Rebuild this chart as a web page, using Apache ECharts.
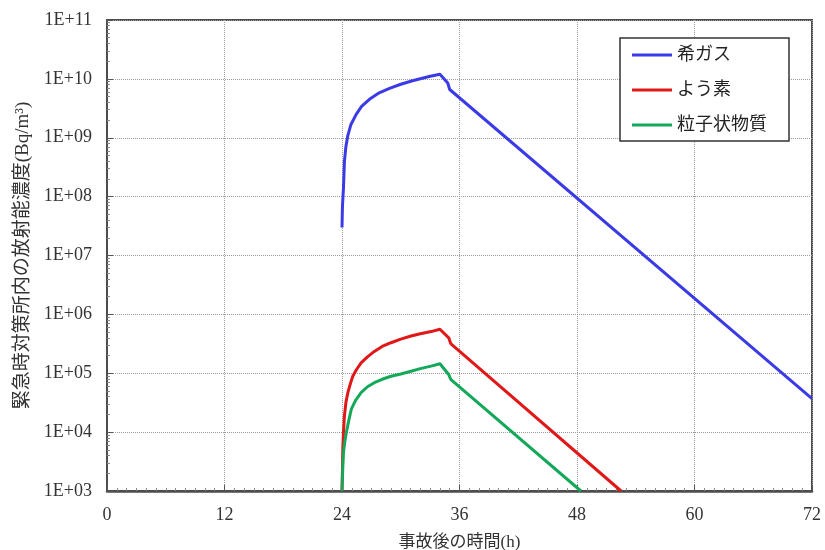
<!DOCTYPE html>
<html>
<head>
<meta charset="utf-8">
<script src="https://cdn.jsdelivr.net/npm/echarts@6/dist/echarts.min.js"></script>
<style>
  html, body { margin: 0; padding: 0; background: #ffffff; }
  #chart { width: 825px; height: 550px; }
</style>
</head>
<body>
<div id="chart"></div>
<script>
// Elapsed time after the accident (h) and concentration (Bq/m3) for each nuclide group
const nobleGasHours  = [24.0, 24.05, 24.15, 24.25, 24.4, 24.6, 24.9, 25.45, 26.0, 26.8, 27.8, 28.85, 30.0, 31.2, 32.9, 34.0, 34.8, 35.0, 72.0];
const nobleGasValues = [3.0e7, 7.1e7, 1.4e8, 4.0e8, 7.1e8, 1.1e9, 1.66e9, 2.5e9, 3.4e9, 4.5e9, 5.8e9, 6.9e9, 8.1e9, 9.3e9, 1.1e10, 1.2e10, 8.5e9, 6.6e9, 3.7e4];

const iodineHours  = [24.0, 24.04, 24.08, 24.15, 24.25, 24.4, 24.6, 24.85, 25.1, 25.5, 25.95, 26.6, 27.3, 28.1, 29.0, 30.0, 31.05, 32.0, 33.1, 34.0, 34.9, 35.1, 52.5];
const iodineValues = [1.0e3, 2.0e3, 5.2e3, 1.0e4, 1.9e4, 3.2e4, 4.7e4, 6.6e4, 8.9e4, 1.17e5, 1.5e5, 1.9e5, 2.35e5, 2.85e5, 3.3e5, 3.8e5, 4.3e5, 4.7e5, 5.1e5, 5.6e5, 4.0e5, 3.2e5, 1.0e3];

const particleHours  = [24.0, 24.08, 24.15, 24.3, 24.45, 24.7, 24.95, 25.4, 25.95, 26.6, 27.3, 28.1, 29.0, 30.0, 31.05, 32.0, 33.1, 34.0, 34.9, 35.1, 48.4];
const particleValues = [1.0e3, 2.5e3, 4.5e3, 7.1e3, 1.0e4, 1.6e4, 2.45e4, 3.5e4, 4.7e4, 5.9e4, 6.9e4, 7.9e4, 8.9e4, 9.7e4, 1.08e5, 1.2e5, 1.32e5, 1.45e5, 9.5e4, 7.9e4, 1.0e3];

const seriesNames = ['希ガス', 'よう素', '粒子状物質'];
const xTicks = [0, 12, 24, 36, 48, 60, 72];

const pairs = (xs, ys) => xs.map((x, i) => [x, ys[i]]);

const serifCJK = '"Liberation Serif", "DejaVu Serif", "Noto Sans CJK JP", serif';

const chart = echarts.init(document.getElementById('chart'), null, { renderer: 'canvas' });

const lineSeries = (name, color, data) => ({
  name: name,
  type: 'line',
  data: data,
  showSymbol: false,
  symbol: 'none',
  smooth: false,
  lineStyle: { color: color, width: 3, join: 'round' },
  itemStyle: { color: color },
  z: 3
});

chart.setOption({
  animation: false,
  backgroundColor: '#ffffff',
  grid: {
    left: 107, right: 13, top: 20, bottom: 59,
    outerBoundsMode: 'none',
    containLabel: false,
    show: true, borderColor: '#4d4d4d', borderWidth: 2,
    backgroundColor: 'transparent'
  },
  legend: {
    orient: 'vertical',
    left: 620, top: 38,
    data: seriesNames,
    icon: 'rect',
    itemWidth: 40, itemHeight: 3,
    itemGap: 17,
    padding: [8, 22, 7, 12],
    backgroundColor: '#ffffff',
    borderColor: '#333333',
    borderWidth: 1.5,
    borderRadius: 0,
    textStyle: { fontFamily: serifCJK, fontSize: 18, color: '#222222' }
  },
  xAxis: {
    type: 'value',
    min: xTicks[0], max: xTicks[xTicks.length - 1], interval: 12,
    name: '事故後の時間(h)',
    nameLocation: 'middle',
    nameGap: 43,
    nameTextStyle: { fontFamily: serifCJK, fontSize: 17, color: '#333333' },
    axisLine: { lineStyle: { color: '#4d4d4d', width: 2.5 } },
    axisTick: { inside: true, length: 6, lineStyle: { color: '#555555' } },
    minorTick: { show: true, splitNumber: 12, length: 3, lineStyle: { color: '#888888' } },
    axisLabel: { fontFamily: serifCJK, fontSize: 18, color: '#333333', margin: 15 },
    splitLine: { show: true, lineStyle: { color: '#9a9a9a', type: 'dotted', width: 1 } }
  },
  yAxis: {
    type: 'log',
    logBase: 10,
    min: 1e3, max: 1e11,
    name: '緊急時対策所内の放射能濃度(Bq/m³)',
    nameLocation: 'middle',
    nameGap: 74,
    nameRotate: 90,
    nameTextStyle: { fontFamily: serifCJK, fontSize: 19, color: '#333333' },
    axisLine: { show: true, lineStyle: { color: '#4d4d4d', width: 2 } },
    axisTick: { inside: true, length: 6, lineStyle: { color: '#555555' } },
    minorTick: { show: true, splitNumber: 9, length: 3, lineStyle: { color: '#888888' } },
    axisLabel: {
      fontFamily: serifCJK, fontSize: 18, color: '#333333', margin: 15,
      formatter: function (v) {
        const e = Math.round(Math.log10(v));
        return '1E+' + (e < 10 ? '0' + e : '' + e);
      }
    },
    splitLine: { show: true, lineStyle: { color: '#9a9a9a', type: 'dotted', width: 1 } }
  },
  series: [
    lineSeries(seriesNames[0], '#3b3be6', pairs(nobleGasHours, nobleGasValues)),
    lineSeries(seriesNames[1], '#e01818', pairs(iodineHours, iodineValues)),
    lineSeries(seriesNames[2], '#14a85a', pairs(particleHours, particleValues))
  ]
});
</script>
</body>
</html>
